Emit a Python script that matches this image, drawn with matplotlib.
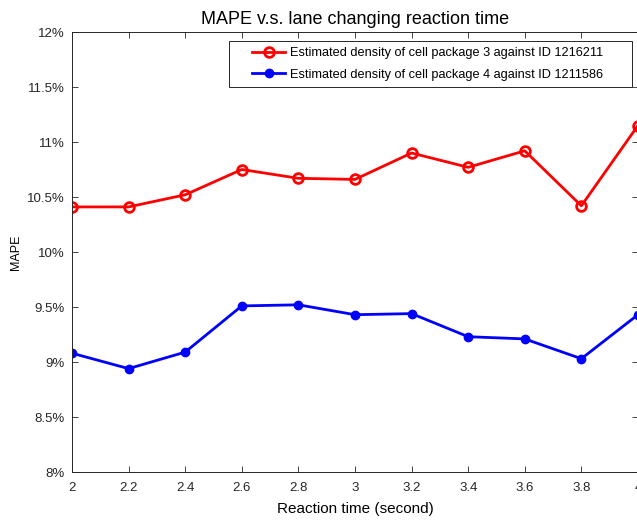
import numpy as np
import matplotlib.pyplot as plt
from matplotlib.ticker import FuncFormatter
from matplotlib.patches import Rectangle

plt.rcParams['font.family'] = ['Liberation Sans', 'DejaVu Sans']

# DATOS
tiempo = [2.0, 2.2, 2.4, 2.6, 2.8, 3.0, 3.2, 3.4, 3.6, 3.8, 4.0]
mape_p3 = [10.41, 10.41, 10.52, 10.75, 10.67, 10.66, 10.90, 10.77, 10.92, 10.42, 11.15]
mape_p4 = [9.08, 8.94, 9.09, 9.51, 9.52, 9.43, 9.44, 9.23, 9.21, 9.03, 9.43]
etiquetas = ['Estimated density of cell package 3 against ID 1216211',
             'Estimated density of cell package 4 against ID 1211586']

W, H = 637, 523
fig = plt.figure(figsize=(W / 100, H / 100), dpi=100)
ax = fig.add_axes([0.113, 0.0975, 0.8885, 0.8413])

ax.plot(tiempo, mape_p3, color='red', lw=2, marker='o', ms=7,
        mfc='none', mew=2, label=etiquetas[0])
ax.plot(tiempo, mape_p4, color='blue', lw=2, marker='o', ms=6,
        mfc='blue', mew=1, label=etiquetas[1])

ax.set_xlim(2, 4)
ax.set_ylim(8, 12)
ax.set_xticks(np.arange(2, 4.01, 0.2))
ax.set_xticklabels(['2', '2.2', '2.4', '2.6', '2.8', '3', '3.2', '3.4', '3.6', '3.8', '4'])
ax.set_yticks(np.arange(8, 12.01, 0.5))
ax.yaxis.set_major_formatter(FuncFormatter(lambda v, p: f'{v:g}%'))

ax.tick_params(direction='in', top=True, right=True, length=4, width=0.6,
               labelsize=9.5, colors='#262626')
ax.tick_params(axis='x', pad=7)
ax.tick_params(axis='y', pad=5)
for s in ax.spines.values():
    s.set_color('#262626')
    s.set_linewidth(0.7)

ax.set_xlabel('Reaction time (second)', fontsize=11, labelpad=6)
ax.set_ylabel('MAPE', fontsize=9, labelpad=4)
ax.set_title('MAPE v.s. lane changing reaction time', fontsize=13, pad=6)

# leyenda estilo MATLAB: caja aparte con margen amplio
fig.patches.append(Rectangle((229 / W, 1 - 87 / H), 403 / W, 46 / H,
                             transform=fig.transFigure, fc='white',
                             ec='#262626', lw=0.7, zorder=5))
leg = fig.legend(loc='upper left', bbox_to_anchor=(252 / W, 1 - 47 / H),
                 fontsize=9.2, frameon=False, handlelength=2.6,
                 handletextpad=0.4, borderpad=0, labelspacing=0.75,
                 borderaxespad=0)
leg.set_zorder(6)

plt.savefig('out.png', dpi=100)
